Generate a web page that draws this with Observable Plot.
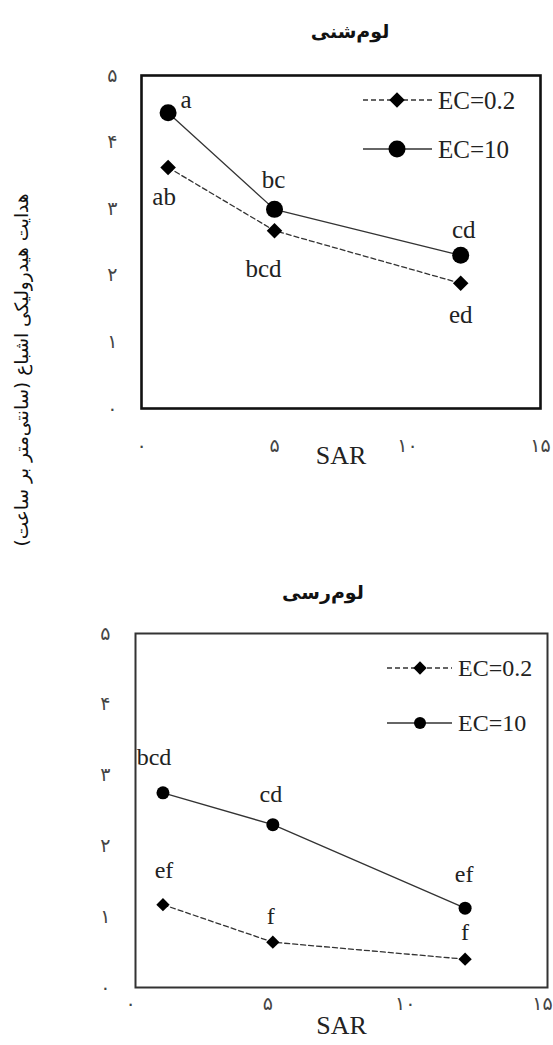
<!DOCTYPE html>
<html>
<head>
<meta charset="utf-8">
<script src="https://cdn.jsdelivr.net/npm/d3@7"></script>
<script src="https://cdn.jsdelivr.net/npm/@observablehq/plot@0.6"></script>
<style>
  html, body { margin: 0; padding: 0; background: #fff; }
  #page { position: relative; width: 553px; height: 1045px; overflow: hidden; background: #fff; }
  .title { position: absolute; font-family: "DejaVu Sans", sans-serif; font-weight: bold; font-size: 19px; direction: rtl; color: #111; white-space: nowrap; transform: translate(-50%, -50%); }
  .chart { position: absolute; left: 0; font-family: "Liberation Serif", "Times New Roman", serif; }
</style>
</head>
<body>
<div id="page"></div>
<script>
// ---------- data ----------
const sar = [1, 5, 12];

const sandyLoamEC02 = [3.62, 2.67, 1.88];
const sandyLoamEC10 = [4.44, 2.99, 2.30];
const sandyLoamLettersEC02 = ["ab", "bcd", "ed"];
const sandyLoamLettersEC10 = ["a", "bc", "cd"];

const clayLoamEC02 = [1.17, 0.64, 0.40];
const clayLoamEC10 = [2.75, 2.30, 1.12];
const clayLoamLettersEC02 = ["ef", "f", "f"];
const clayLoamLettersEC10 = ["bcd", "cd", "ef"];

const seriesNames = ["EC=0.2", "EC=10"];
const panelTitles = ["لوم‌شنی", "لوم‌رسی"];
const yAxisTitle = "هدایت هیدرولیکی اشباع (سانتی‌متر بر ساعت)";
const xAxisTitle = "SAR";

const yTickValues = [0, 1, 2, 3, 4, 5];
const yTickLabels = ["۰", "۱", "۲", "۳", "۴", "۵"];
const xTickValues = [0, 5, 10, 15];
const xTickLabels = ["۰", "۵", "۱۰", "۱۵"];

// ---------- layout / style (not data) ----------
const page = document.getElementById("page");
const serif = "Liberation Serif, Times New Roman, serif";

function rows(values, letters) {
  return sar.map((s, i) => ({sar: s, k: values[i], letter: letters[i]}));
}

function panel(cfg) {
  const d02 = rows(cfg.ec02, cfg.l02);
  const d10 = rows(cfg.ec10, cfg.l10);
  const labelMark = (d, off) => Plot.text([d], {x: "sar", y: "k", text: "letter", dx: off[0], dy: off[1], fontSize: cfg.labelSize, fontFamily: serif, fill: "#222"});
  const chart = Plot.plot({
    width: 553,
    height: cfg.height,
    marginTop: cfg.mt, marginBottom: cfg.mb, marginLeft: cfg.ml, marginRight: cfg.mr,
    style: {background: "transparent", overflow: "visible", fontFamily: serif},
    x: {domain: [0, 15]},
    y: {domain: [0, 5]},
    marks: [
      Plot.axisY({ticks: yTickValues, tickFormat: d => yTickLabels[yTickValues.indexOf(d)], tickSize: 0, tickPadding: cfg.yPad, label: null, fontSize: 19, fill: "#444", fontFamily: "DejaVu Sans"}),
      Plot.axisX({ticks: xTickValues, tickFormat: d => xTickLabels[xTickValues.indexOf(d)], tickSize: 0, tickPadding: cfg.xPad, dx: cfg.xDx, label: null, fontSize: 19, fill: "#444", fontFamily: "DejaVu Sans"}),
      Plot.frame({stroke: cfg.frameColor, strokeWidth: cfg.frameWidth}),
      Plot.line(d02, {x: "sar", y: "k", stroke: "#333", strokeWidth: 1.3, strokeDasharray: "5,3"}),
      Plot.line(d10, {x: "sar", y: "k", stroke: "#333", strokeWidth: 1.3}),
      Plot.dot(d02, {x: "sar", y: "k", symbol: "diamond2", r: cfg.rDiamond, fill: "#000", stroke: "none"}),
      Plot.dot(d10, {x: "sar", y: "k", symbol: "circle", r: cfg.rCircle, fill: "#000", stroke: "none"}),
      ...d02.map((d, i) => labelMark(d, cfg.off02[i])),
      ...d10.map((d, i) => labelMark(d, cfg.off10[i])),
      Plot.text([xAxisTitle], {frameAnchor: "bottom", dy: cfg.sarDy, text: d => d, fontSize: 26, fontFamily: serif, fill: "#222"})
    ]
  });
  chart.classList.add("chart");
  chart.style.top = cfg.top + "px";
  chart.style.fontFamily = serif;
  page.appendChild(chart);

  // serif face for every Latin label drawn by the text marks
  chart.querySelectorAll("text").forEach(t => {
    if (/[A-Za-z]/.test(t.textContent)) {
      t.setAttribute("font-family", serif);
      t.style.setProperty("font-family", serif, "important");
    }
  });

  // legend inside the frame
  const svg = d3.select(chart);
  const g = svg.append("g").attr("text-anchor", "start");
  const L = cfg.legend;
  const items = [
    {name: seriesNames[0], sym: d3.symbolDiamond2, r: L.rD, dash: "5,3", y: L.y0},
    {name: seriesNames[1], sym: d3.symbolCircle, r: L.rC, dash: null, y: L.y1}
  ];
  items.forEach(it => {
    g.append("line").attr("x1", L.x0).attr("x2", L.x1).attr("y1", it.y).attr("y2", it.y)
      .attr("stroke", "#333").attr("stroke-width", 1.3).attr("stroke-dasharray", it.dash);
    g.append("path").attr("d", d3.symbol(it.sym, Math.PI * it.r * it.r)())
      .attr("transform", `translate(${L.xm},${it.y})`).attr("fill", "#000");
    g.append("text").attr("x", L.xt).attr("y", it.y).attr("dy", "0.35em")
      .attr("text-anchor", "start")
      .style("font-family", serif).attr("font-size", L.size).attr("fill", "#222").text(it.name);
  });
}

panel({
  top: 0, height: 480, mt: 75, mb: 72, ml: 141, mr: 13,
  yPad: 24, xPad: 30, xDx: 0, frameColor: "#111", frameWidth: 2.6,
  ec02: sandyLoamEC02, ec10: sandyLoamEC10, l02: sandyLoamLettersEC02, l10: sandyLoamLettersEC10,
  rDiamond: 7, rCircle: 8.5, labelSize: 25,
  off02: [[-4, 30], [-11, 38], [0, 32]],
  off10: [[18, -13], [-1, -29], [3, -25]],
  sarDy: 55,
  legend: {x0: 363, x1: 432, xm: 397, xt: 438, y0: 100, y1: 149, rD: 7, rC: 8.5, size: 25}
});

panel({
  top: 560, height: 485, mt: 73, mb: 58, ml: 135, mr: 6,
  yPad: 25, xPad: 9, xDx: -5, frameColor: "#333", frameWidth: 2,
  ec02: clayLoamEC02, ec10: clayLoamEC10, l02: clayLoamLettersEC02, l10: clayLoamLettersEC10,
  rDiamond: 6, rCircle: 6.5, labelSize: 24,
  off02: [[1, -34], [-2, -26], [0, -27]],
  off10: [[-9, -35], [-2, -30], [-1, -34]],
  sarDy: 46,
  legend: {x0: 387, x1: 452, xm: 420, xt: 458, y0: 108, y1: 163, rD: 6, rC: 6, size: 24}
});

// titles
[[panelTitles[0], 350, 31], [panelTitles[1], 323, 592]].forEach(([t, x, y]) => {
  const div = document.createElement("div");
  div.className = "title";
  div.textContent = t;
  div.style.left = x + "px";
  div.style.top = y + "px";
  page.appendChild(div);
});

// shared y-axis title
const ov = d3.select(page).append("svg")
  .attr("width", 553).attr("height", 1045)
  .style("position", "absolute").style("left", "0").style("top", "0").style("pointer-events", "none");
ov.append("text")
  .attr("transform", "translate(22,370) rotate(-90)")
  .attr("text-anchor", "middle").attr("dy", "0.35em")
  .attr("direction", "rtl")
  .attr("font-family", "DejaVu Sans, sans-serif").attr("font-size", 18.5).attr("fill", "#111")
  .text(yAxisTitle);
</script>
</body>
</html>
